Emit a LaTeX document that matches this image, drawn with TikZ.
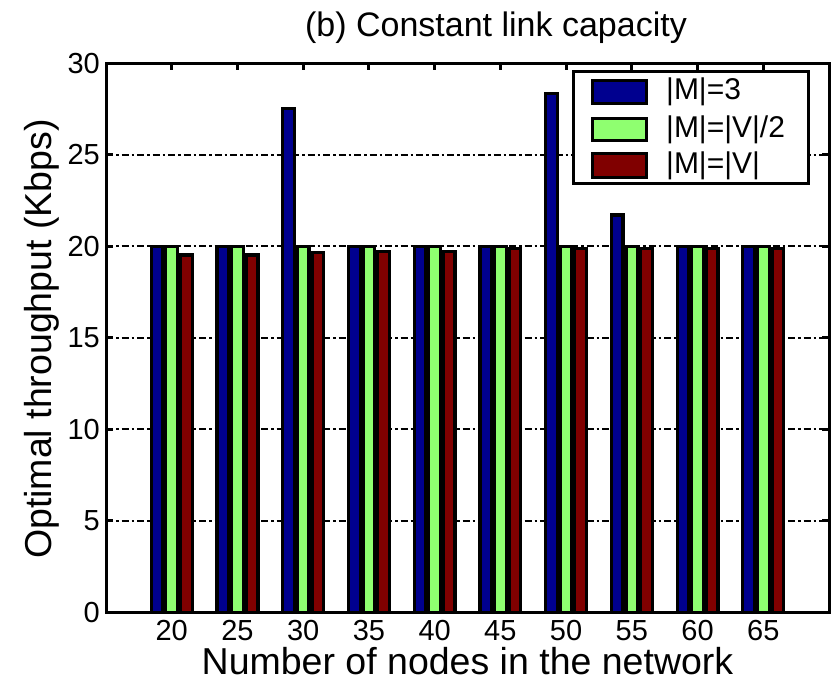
\documentclass[tikz,border=0pt]{standalone}
\usepackage{fontspec}
\setmainfont{Liberation Sans}
\definecolor{mblue}{rgb}{0,0,0.5625}
\definecolor{mgreen}{rgb}{0.5625,1,0.4375}
\definecolor{mred}{rgb}{0.5,0,0}
\tikzset{
  barbox/.style={draw=black, line width=3.2pt},
  gridline/.style={line width=2pt, dash pattern=on 7pt off 3pt on 2.5pt off 3pt},
  axisline/.style={line width=3pt},
  tickline/.style={line width=3pt},
  ticklab/.style={inner sep=0pt, font=\fontsize{29}{34}\selectfont},
  leglab/.style={inner sep=0pt, anchor=west, font=\fontsize{30}{35}\selectfont},
  biglab/.style={inner sep=0pt, anchor=base, font=\fontsize{38}{44}\selectfont},
}
\begin{document}
\begin{tikzpicture}
\useasboundingbox (0,0) rectangle (833pt,680pt);
% title
\node[inner sep=0pt, anchor=base, font=\fontsize{34}{40}\selectfont] (title) at (496pt,643.5pt) {(b) Constant link capacity};
% axis labels
\node[biglab, font=\fontsize{37.5}{44}\selectfont] (xlab) at (467.5pt,5pt) {Number of nodes in the network};
\node[biglab, rotate=90, font=\fontsize{37.5}{44}\selectfont] (ylab) at (51pt,341pt) {Optimal throughput (Kbps)};
\begin{scope}[shift={(106pt,67.5pt)}, x=65.727pt, y=18.3pt]
  % grid
  \foreach \v in {5,10,...,25} \draw[gridline] (0,\v) -- (11,\v);
  % ticks
  \foreach \v in {0,5,...,30} {
    \draw[tickline] (0,\v) -- ++(7pt,0);
    \draw[tickline] (11,\v) -- ++(-7pt,0);
    \node[ticklab, anchor=east] (yt\v) at ([xshift=-6pt]0,\v) {\v};
  }
  \foreach \i [evaluate=\i as \lab using int(15+5*\i)] in {1,...,10} {
    \draw[tickline] (\i,30) -- ++(0,-7pt);
    \draw[tickline] (\i,0) -- ++(0,7pt);
    \node[ticklab] (xt\i) at ([yshift=-18.5pt]\i,0) {\lab};
  }
  % bars
  \foreach \i/\b/\r in {1/20/19.54, 2/20/19.54, 3/27.55/19.68, 4/20/19.72, 5/20/19.72, 6/20/19.88, 7/28.37/19.88, 8/21.72/19.88, 9/20/19.88, 10/20/19.88} {
    \draw[barbox, fill=mblue] ({\i-0.3111},0) rectangle ({\i-0.1333},\b);
    \draw[barbox, fill=mgreen] ({\i-0.0889},0) rectangle ({\i+0.0889},20);
    \draw[barbox, fill=mred] ({\i+0.1333},0) rectangle ({\i+0.3111},\r);
  }
  % axis box
  \draw[axisline] (0,0) rectangle (11,30);
\end{scope}
% legend
\draw[line width=3pt, fill=white] (573.5pt,608.5pt) rectangle (808.7pt,496pt);
\draw[barbox, line width=3pt, fill=mblue] (592.5pt,599.3pt) rectangle (646.8pt,576.7pt);
\draw[barbox, line width=3pt, fill=mgreen] (592.5pt,561.6pt) rectangle (646.8pt,539pt);
\draw[barbox, line width=3pt, fill=mred] (592.5pt,526.5pt) rectangle (646.8pt,502.5pt);
\node[leglab] (l1) at (666pt,588pt) {|M|=3};
\node[leglab] (l2) at (666pt,550.3pt) {|M|=|V|/2};
\node[leglab] (l3) at (666pt,514.5pt) {|M|=|V|};
\end{tikzpicture}
\end{document}
